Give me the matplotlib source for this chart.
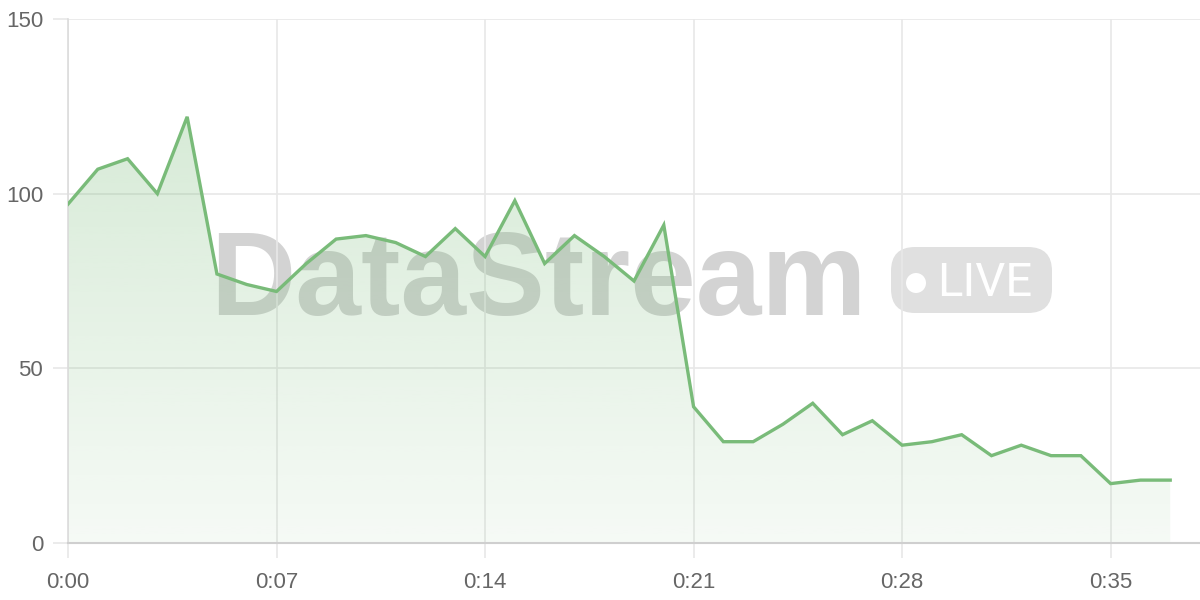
import numpy as np
import matplotlib
matplotlib.use("Agg")
import matplotlib.pyplot as plt
from matplotlib.patches import FancyBboxPatch, Circle

# seconds since start and the live values
seconds = list(range(38))
values = [97, 107, 110, 100, 122, 77, 74, 72, 80, 87,
          88, 86, 82, 90, 82, 98, 80, 88, 82, 75,
          91, 39, 29, 29, 34, 40, 31, 35, 28, 29,
          31, 25, 28, 25, 25, 17, 18, 18]
tick_secs = [0, 7, 14, 21, 28, 35]
tick_labels = ["0:%02d" % s for s in tick_secs]
y_ticks = [0, 50, 100, 150]

line_color = "#79bb79"
grid_color = "#e8e8e8"
text_color = "#666666"

plt.rcParams['font.family'] = ['Liberation Sans', 'DejaVu Sans']

fig = plt.figure(figsize=(12, 6), dpi=100)
ax = fig.add_axes([68 / 1200, 57 / 600, 1 - 68 / 1200, 524 / 600])

ax.set_xlim(0, 38)
ax.set_ylim(0, 150)

# gradient area under the line
grad = np.linspace(0, 1, 256).reshape(-1, 1)
rgba = np.zeros((256, 1, 4))
rgba[..., :3] = matplotlib.colors.to_rgb(line_color)
rgba[..., 3] = 0.07 + 0.28 * grad
img = ax.imshow(rgba, extent=[0, seconds[-1], 0, 150], origin='lower',
                aspect='auto', zorder=1, interpolation='bilinear')
poly = ax.fill_between(seconds, values, 0, color='none')
img.set_clip_path(poly.get_paths()[0], transform=ax.transData)

ax.plot(seconds, values, color=line_color, linewidth=2.4, zorder=3,
        solid_joinstyle='miter')

# watermark (behind grid and fill)
ax.text(210 / 1200, (600 - 315) / 600, "DataStream", transform=fig.transFigure,
        fontsize=85, fontweight='bold', color='#d3d3d3',
        ha='left', va='baseline', zorder=0.2, clip_on=False)
badge = FancyBboxPatch((8.91, 2.87), 1.61, 0.66, boxstyle="round,pad=0,rounding_size=0.24",
                       transform=fig.dpi_scale_trans, facecolor='#e0e0e0', edgecolor='none',
                       zorder=0.2, clip_on=False)
ax.add_patch(badge)
ax.add_patch(Circle((9.16, 3.17), 0.10, transform=fig.dpi_scale_trans, facecolor='white',
                    edgecolor='none', zorder=0.3, clip_on=False))
ax.text(9.37, 3.04, "LIVE", transform=fig.dpi_scale_trans, fontsize=34,
        family=['Roboto', 'DejaVu Sans'], color='white', ha='left', va='baseline',
        zorder=0.3, clip_on=False)

ax.set_xticks(tick_secs)
ax.set_xticklabels(tick_labels)
ax.set_yticks(y_ticks)
ax.grid(True, color=grid_color, linewidth=1.2)
ax.set_axisbelow(True)
ax.tick_params(axis='both', colors=grid_color, labelcolor=text_color, labelsize=16,
               length=11, width=1.2)
ax.tick_params(axis='x', pad=10)
ax.tick_params(axis='y', pad=7)

for side in ['top', 'right']:
    ax.spines[side].set_visible(False)
ax.spines['left'].set_color('#dcdcdc')
ax.spines['left'].set_linewidth(1.2)
ax.spines['bottom'].set_color('#cfcfcf')
ax.spines['bottom'].set_linewidth(1.5)

fig.savefig("out.png", dpi=100)
